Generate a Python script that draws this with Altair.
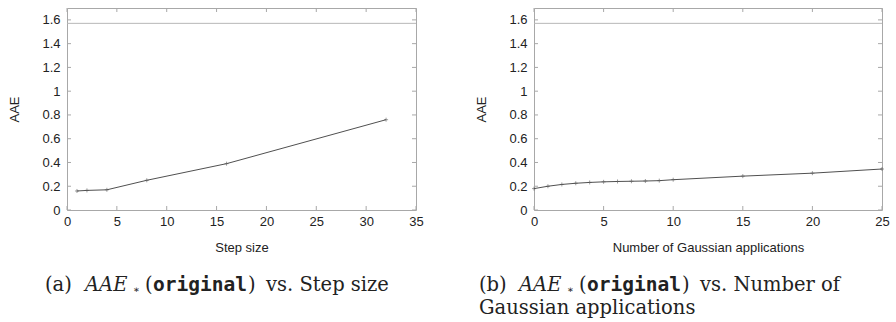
import altair as alt
import pandas as pd

# ---- data ----
step_x = [1, 2, 4, 8, 16, 32]
step_y = [0.160, 0.165, 0.170, 0.250, 0.390, 0.760]

gauss_x = [0, 1, 2, 3, 4, 5, 6, 7, 8, 9, 10, 15, 20, 25]
gauss_y = [0.180, 0.200, 0.215, 0.225, 0.232, 0.237, 0.240, 0.242, 0.244, 0.247, 0.255, 0.285, 0.310, 0.345]

y_ticks = [0, 0.2, 0.4, 0.6, 0.8, 1.0, 1.2, 1.4, 1.6]
step_ticks = [0, 5, 10, 15, 20, 25, 30, 35]
gauss_ticks = [0, 5, 10, 15, 20, 25]
ref_level = [1.5708]

cap_a = ["(a)", "AAE", "∗", "(", "original", ")", "vs. Step size"]
cap_b = ["(b)", "AAE", "∗", "(", "original", ")", "vs. Number of"]
cap_b2 = "Gaussian applications"

W, H = 349, 202
FRAME = "#a8a8a8"
LINE = "#505050"
SANS = "Liberation Sans"
SERIF = "DejaVu Serif"
MONO = "DejaVu Sans Mono"


def caption_layers(words, x0, y0, second=None):
    offs = [0, 40, 88, 100, 108, 203, 221]
    layers = []
    for i, w in enumerate(words):
        font, size, style, weight, dy = SERIF, 19.5, "normal", "normal", 0
        if i == 1:
            style = "italic"
        if i == 2:
            size, dy = 10, 2
        if i == 4:
            font, size, weight = MONO, 19.5, "bold"
        layers.append(
            alt.Chart(pd.DataFrame({"t": [w]})).mark_text(
                align="left", baseline="alphabetic", font=font, fontSize=size,
                fontStyle=style, fontWeight=weight, color="#222"
            ).encode(text="t:N", x=alt.value(x0 + offs[i]), y=alt.value(y0 + dy))
        )
    if second:
        layers.append(
            alt.Chart(pd.DataFrame({"t": [second]})).mark_text(
                align="left", baseline="alphabetic", font=SERIF, fontSize=19.5, color="#222"
            ).encode(text="t:N", x=alt.value(x0), y=alt.value(y0 + 23))
        )
    return layers


def panel(xs, ys, xmax, xticks, xtitle, words, cap_x, second=None, width=W):
    X = alt.X("x:Q", scale=alt.Scale(domain=[0, xmax], nice=False, zero=False),
              axis=alt.Axis(values=xticks, title=xtitle, format="~g", ticks=False,
                            domain=False, grid=False, labelFlush=False,
                            labelOverlap=False, labelPadding=5, titlePadding=13,
                            labelFont=SANS, titleFont=SANS, labelFontSize=13,
                            titleFontSize=13, titleFontWeight="normal",
                            labelColor="#222", titleColor="#222"))
    Y = alt.Y("y:Q", scale=alt.Scale(domain=[0, 1.7], nice=False),
              axis=alt.Axis(values=y_ticks, title="AAE", format="~g", ticks=False,
                            domain=False, grid=False, labelPadding=7, titlePadding=20,
                            labelFont=SANS, titleFont=SANS, labelFontSize=13,
                            titleFontSize=13, titleFontWeight="normal",
                            labelColor="#222", titleColor="#222"))
    df = pd.DataFrame({"x": xs, "y": ys})
    line = alt.Chart(df).mark_line(color=LINE, strokeWidth=1).encode(x=X, y=Y)
    pts = alt.Chart(df).mark_point(
        shape="M-1,0L1,0M0,-1L0,1", size=16, filled=False, color=LINE, strokeWidth=0.8
    ).encode(x=X, y=Y)
    ref = alt.Chart(pd.DataFrame({"y": ref_level})).mark_rule(color="#b8b8b8", strokeWidth=1).encode(y=Y)
    xt = pd.DataFrame({"x": xticks})
    yt = pd.DataFrame({"y": y_ticks})
    tb = alt.Chart(xt).mark_rule(color=FRAME).encode(x=X, y=alt.value(H), y2=alt.value(H - 4))
    tt = alt.Chart(xt).mark_rule(color=FRAME).encode(x=X, y=alt.value(0), y2=alt.value(4))
    tl = alt.Chart(yt).mark_rule(color=FRAME).encode(y=Y, x=alt.value(0), x2=alt.value(4))
    tr = alt.Chart(yt).mark_rule(color=FRAME).encode(y=Y, x=alt.value(width), x2=alt.value(width - 4))
    caps = caption_layers(words, cap_x, 283, second)
    return alt.layer(line, pts, ref, tb, tt, tl, tr, *caps).properties(width=width, height=H)


left = panel(step_x, step_y, 35, step_ticks, "Step size", cap_a, 46 - 68)
right = panel(gauss_x, gauss_y, 25, gauss_ticks, "Number of Gaussian applications",
              cap_b, 480 - 535, cap_b2, width=348)

chart = alt.hconcat(left, right, spacing=51).properties(
    padding={"left": 8, "top": 7, "right": 0, "bottom": 0}, background="white"
).configure_view(stroke=FRAME, strokeWidth=1)

chart.save("out.html", embed_options={"renderer": "svg", "actions": False})
